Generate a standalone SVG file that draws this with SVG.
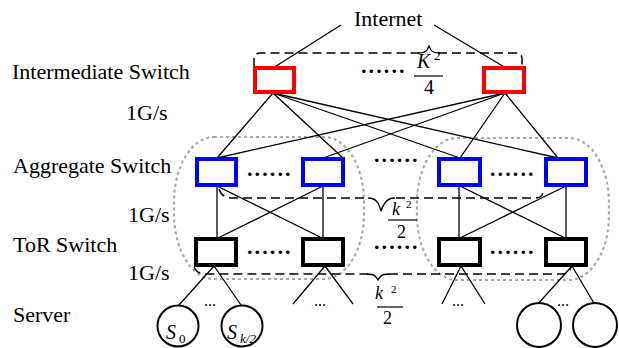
<svg xmlns="http://www.w3.org/2000/svg" width="619" height="348" viewBox="0 0 619 348">
  <style>
    .lbl { font-family: "Liberation Serif", "Times New Roman", serif; font-size: 22px; fill: #000; }
    .math { font-family: "Liberation Serif", "Times New Roman", serif; fill: #000; }
    .it { font-style: italic; }
    .dots { font-family: "Liberation Serif", "Times New Roman", serif; font-size: 22px; font-weight: bold; letter-spacing: 2.1px; fill: #000; }
    .sdots { font-family: "Liberation Serif", "Times New Roman", serif; font-size: 16px; fill: #000; }
    .link { stroke: #000; stroke-width: 1.3; fill: none; }
    .dash { stroke: #000; stroke-width: 1.5; stroke-dasharray: 9 5; fill: none; }
    .brace { stroke: #000; stroke-width: 1.3; fill: none; }
    .frac { stroke: #000; stroke-width: 1.2; }
    .pod { stroke: #a8a8a8; stroke-width: 2.2; stroke-dasharray: 3 3; fill: none; }
    .sw { fill: #fff; stroke-width: 4; }
    .int { stroke: #ff0000; }
    .agg { stroke: #0000ff; }
    .tor { stroke: #000; }
    .srv { fill: #fff; stroke: #000; stroke-width: 2; }
  </style>

  <!-- pods -->
  <g id="pods">
    <rect class="pod" x="174" y="137" width="190" height="142" rx="40" ry="65"/>
    <rect class="pod" x="417" y="138" width="192" height="142" rx="40" ry="65"/>
  </g>

  <!-- layer labels -->
  <g id="labels">
    <text class="lbl" x="354" y="26">Internet</text>
    <text class="lbl" x="12" y="79">Intermediate Switch</text>
    <text class="lbl" x="126" y="120">1G/s</text>
    <text class="lbl" x="13" y="173">Aggregate Switch</text>
    <text class="lbl" x="128" y="222">1G/s</text>
    <text class="lbl" x="13" y="252">ToR Switch</text>
    <text class="lbl" x="128" y="280">1G/s</text>
    <text class="lbl" x="13" y="322">Server</text>
  </g>

  <!-- group brackets and counts -->
  <g id="brackets">
    <path class="dash" d="M254,67 L254,59 Q254,53 260,53 L420,53"/>
    <path class="dash" d="M438,53 L516,53 Q522,53 522,59 L522,67"/>
    <path class="brace" d="M418,53 Q425,53 427,50 Q428.5,47 429,46 Q429.5,47 431,50 Q433,53 440,53"/>
    <text class="math it" x="417" y="68" font-size="20">K</text>
    <text class="math" x="434" y="60" font-size="13">2</text>
    <line class="frac" x1="414" y1="76" x2="443" y2="76"/>
    <text class="math" x="424" y="94" font-size="20">4</text>

    <path class="dash" d="M219,189 Q222,198 232,198 L368,198"/>
    <path class="dash" d="M396,198 L536,198 Q543,198 544,189"/>
    <path class="brace" d="M368,198 Q375,198 378,203 Q380,207 381,211 Q382,207 385,203 Q388,198 395,198"/>
    <text class="math it" x="392" y="215" font-size="18">k</text>
    <text class="math" x="406" y="208" font-size="11">2</text>
    <line class="frac" x1="388" y1="220" x2="417" y2="220"/>
    <text class="math" x="397" y="238" font-size="18">2</text>

    <path class="dash" d="M194,267 Q197,274 206,274 L368,274"/>
    <path class="dash" d="M389,274 L562,274 Q569,274 571,267"/>
    <path class="brace" d="M367,274 Q373,274 375,276 Q377,278 378,280 Q379,278 381,276 Q383,274 389,274"/>
    <text class="math it" x="375" y="299" font-size="18">k</text>
    <text class="math" x="391" y="293" font-size="11">2</text>
    <line class="frac" x1="377" y1="307" x2="403" y2="307"/>
    <text class="math" x="383" y="324" font-size="18">2</text>
  </g>

  <!-- connectors -->
  <g id="links">
    <line class="link" x1="341" y1="25" x2="273" y2="68"/>
    <line class="link" x1="434" y1="25" x2="506" y2="68"/>

    <line class="link" x1="273" y1="93" x2="217" y2="158"/>
    <line class="link" x1="273" y1="93" x2="343" y2="158"/>
    <line class="link" x1="273" y1="93" x2="460" y2="158"/>
    <line class="link" x1="273" y1="93" x2="558" y2="158"/>
    <line class="link" x1="505" y1="93" x2="217" y2="158"/>
    <line class="link" x1="505" y1="93" x2="323" y2="158"/>
    <line class="link" x1="505" y1="93" x2="460" y2="158"/>
    <line class="link" x1="505" y1="93" x2="558" y2="158"/>

    <line class="link" x1="217" y1="186" x2="217" y2="238"/>
    <line class="link" x1="217" y1="186" x2="322" y2="238"/>
    <line class="link" x1="323" y1="186" x2="323" y2="238"/>
    <line class="link" x1="323" y1="186" x2="218" y2="238"/>
    <line class="link" x1="459" y1="186" x2="459" y2="238"/>
    <line class="link" x1="460" y1="186" x2="565" y2="238"/>
    <line class="link" x1="566" y1="186" x2="566" y2="238"/>
    <line class="link" x1="566" y1="186" x2="460" y2="238"/>

    <line class="link" x1="214" y1="266" x2="179" y2="305"/>
    <line class="link" x1="214" y1="266" x2="241" y2="305"/>
    <line class="link" x1="325" y1="266" x2="293" y2="304"/>
    <line class="link" x1="325" y1="266" x2="353" y2="304"/>
    <line class="link" x1="461" y1="266" x2="442" y2="304"/>
    <line class="link" x1="461" y1="266" x2="485" y2="304"/>
    <line class="link" x1="572" y1="266" x2="537" y2="305"/>
    <line class="link" x1="572" y1="266" x2="595" y2="305"/>
  </g>

  <!-- intermediate switches -->
  <g id="int-1"><rect class="sw int" x="255" y="68" width="39" height="24"/></g>
  <g id="int-2"><rect class="sw int" x="484" y="68" width="40" height="24"/></g>
  <text class="dots" x="361" y="73">......</text>

  <!-- aggregate switches -->
  <g id="agg-1"><rect class="sw agg" x="197" y="159" width="39" height="26"/></g>
  <g id="agg-2"><rect class="sw agg" x="303" y="159" width="40" height="26"/></g>
  <g id="agg-3"><rect class="sw agg" x="439" y="159" width="41" height="26"/></g>
  <g id="agg-4"><rect class="sw agg" x="546" y="159" width="40" height="26"/></g>
  <text class="dots" x="247" y="176">......</text>
  <text class="dots" x="374" y="162">......</text>
  <text class="dots" x="490" y="176">......</text>

  <!-- ToR switches -->
  <g id="tor-1"><rect class="sw tor" x="196" y="239" width="40" height="26"/></g>
  <g id="tor-2"><rect class="sw tor" x="303" y="239" width="40" height="26"/></g>
  <g id="tor-3"><rect class="sw tor" x="439" y="239" width="41" height="26"/></g>
  <g id="tor-4"><rect class="sw tor" x="546" y="239" width="40" height="26"/></g>
  <text class="dots" x="247" y="254">......</text>
  <text class="dots" x="374" y="249">......</text>
  <text class="dots" x="490" y="254">......</text>

  <!-- servers -->
  <g id="srv-0">
    <circle class="srv" cx="178" cy="326" r="20.5"/>
    <text class="math it" x="166" y="339" font-size="20">S</text>
    <text class="math" x="179" y="343" font-size="13">0</text>
  </g>
  <g id="srv-k2">
    <circle class="srv" cx="242" cy="326" r="20.5"/>
    <text class="math it" x="227" y="339" font-size="20">S</text>
    <text class="math it" x="240" y="343" font-size="13">k/2</text>
  </g>
  <g id="srv-a"><circle class="srv" cx="539" cy="325" r="22"/></g>
  <g id="srv-b"><circle class="srv" cx="595" cy="325" r="22"/></g>
  <text class="sdots" x="204" y="306">...</text>
  <text class="sdots" x="314" y="306">...</text>
  <text class="sdots" x="452" y="306">...</text>
  <text class="sdots" x="557" y="306">...</text>
</svg>
